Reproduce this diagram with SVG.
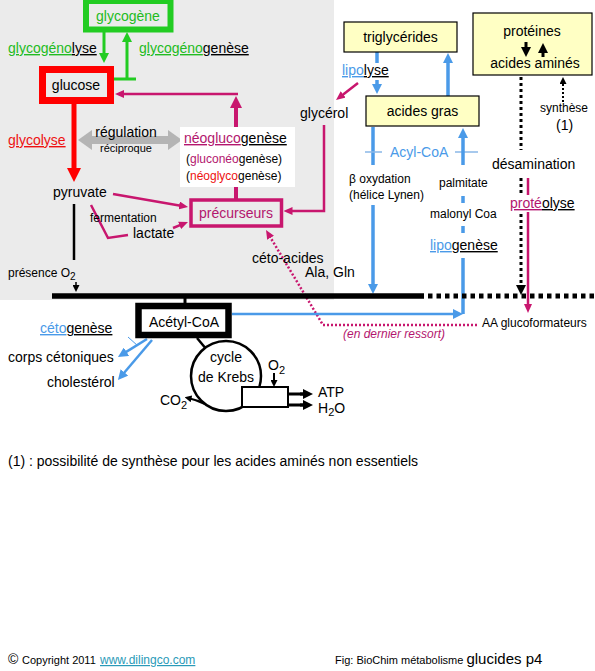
<svg xmlns="http://www.w3.org/2000/svg" width="595" height="671" viewBox="0 0 595 671">
<style>
text{font-family:"Liberation Sans",Arial,sans-serif;font-size:14px;fill:#000}
.s12{font-size:12px}
.s11{font-size:11px}
.u{text-decoration:underline}
.mg{fill:#b3166e}
.gr{fill:#22bb22}
.rd{fill:#ee1111}
.bl{fill:#4a9ae8}
.ln{fill:none;stroke-linecap:butt}
.pk{stroke:#c8166e}
.bu{stroke:#4a9ae8}
.bk{stroke:#000}
.yb{fill:#ffffc4;stroke:#000;stroke-width:1.2}
</style>
<defs>
<marker id="mG" markerUnits="userSpaceOnUse" markerWidth="10" markerHeight="10" refX="5" refY="5" orient="auto"><path d="M0,0L10,5L0,10z" fill="#22cc22"/></marker>
<marker id="mR" markerUnits="userSpaceOnUse" markerWidth="14" markerHeight="14" refX="7" refY="7" orient="auto"><path d="M0,0L14,7L0,14z" fill="#ff0000"/></marker>
<marker id="mGy" markerUnits="userSpaceOnUse" markerWidth="14" markerHeight="20" refX="7" refY="10" orient="auto-start-reverse"><path d="M0,0L14,10L0,20z" fill="#b4b4b4"/></marker>
<marker id="mPT" markerUnits="userSpaceOnUse" markerWidth="12" markerHeight="12" refX="6" refY="6" orient="auto"><path d="M0,0L12,6L0,12z" fill="#c8166e"/></marker>
<marker id="mP" markerUnits="userSpaceOnUse" markerWidth="9" markerHeight="8" refX="4.5" refY="4" orient="auto"><path d="M0,0L9,4L0,8z" fill="#c8166e"/></marker>
<marker id="mB" markerUnits="userSpaceOnUse" markerWidth="10" markerHeight="10" refX="5" refY="5" orient="auto"><path d="M0,0L10,5L0,10z" fill="#4a9ae8"/></marker>
<marker id="mK" markerUnits="userSpaceOnUse" markerWidth="10" markerHeight="10" refX="5" refY="5" orient="auto"><path d="M0,0L10,5L0,10z" fill="#000"/></marker>
<marker id="mKs" markerUnits="userSpaceOnUse" markerWidth="7" markerHeight="7" refX="3.5" refY="3.5" orient="auto"><path d="M0,0L7,3.5L0,7z" fill="#000"/></marker>
</defs>

<rect x="0" y="0" width="334" height="300" fill="#ebebeb"/>

<g id="connectors">
  <!-- glycogen -->
  <path class="ln" d="M104,32V58" stroke="#22cc22" stroke-width="3" marker-end="url(#mG)"/>
  <path class="ln" d="M113,79H136M127,79V37" stroke="#22cc22" stroke-width="3" marker-end="url(#mG)"/>
  <!-- glycolyse -->
  <path class="ln" d="M74,102V175" stroke="#ff0000" stroke-width="5" marker-end="url(#mR)"/>
  <path class="ln" d="M85,140H175" stroke="#b4b4b4" stroke-width="8" marker-start="url(#mGy)" marker-end="url(#mGy)"/>
  <!-- neoglucogenese -->
  <path class="ln pk" d="M238,94H119.5" stroke-width="2.5" marker-end="url(#mP)"/>
  <path class="ln pk" d="M236,200V102" stroke-width="4" marker-end="url(#mPT)"/>
  <path class="ln pk" d="M113,194L183.6,206.2" stroke-width="2.5" marker-end="url(#mP)"/>
  <path class="ln pk" d="M173,228L183.8,223.7" stroke-width="2.5" marker-end="url(#mP)"/>
  <path class="ln pk" d="M91,205L108,238L128,235" stroke-width="2.5"/>
  <path class="ln pk" d="M324,125V211H288" stroke-width="2.5" marker-end="url(#mP)"/>
  <path class="ln pk" d="M358,83L339.6,97.2" stroke-width="2.5" marker-end="url(#mP)"/>
  <path class="ln pk" d="M477,325H323L268.3,233.9" stroke-width="2.5" stroke-dasharray="2,2" marker-end="url(#mP)"/>
  <path class="ln pk" d="M528,178V308.5" stroke-width="2.5" marker-end="url(#mP)"/>
  <!-- lipids -->
  <path class="ln bu" d="M377,52V63" stroke-width="3.5"/>
  <path class="ln bu" d="M377,80V89" stroke-width="3.5" marker-end="url(#mB)"/>
  <path class="ln bu" d="M448,96V58" stroke-width="3.5" marker-end="url(#mB)"/>
  <path class="ln bu" d="M373,127V165" stroke-width="3.5"/>
  <path class="ln bu" d="M373,205V289" stroke-width="3.5" marker-end="url(#mB)"/>
  <path class="ln" d="M365,152H382M455,152H478" stroke="#8ab8e8" stroke-width="1.5"/>
  <path class="ln bu" d="M463,165V133" stroke-width="3.5" marker-end="url(#mB)"/>
  <path class="ln bu" d="M463,196V203M463,226V233M463,258V314" stroke-width="3.5"/>
  <path class="ln bu" d="M232,314H458" stroke-width="2.5" marker-end="url(#mB)"/>
  <path class="ln bu" d="M147,339L122.2,354.4" stroke-width="2.5" marker-end="url(#mB)"/>
  <path class="ln bu" d="M152,340L121.2,376.2" stroke-width="2.5" marker-end="url(#mB)"/>
  <path class="ln" d="M128,337L138,346" stroke="#4a9ae8" stroke-width="1"/>
  <!-- black -->
  <path class="ln bk" d="M74,204V260" stroke-width="2.5"/>
  <path class="ln bk" d="M76,282V288.5" stroke-width="1.5" marker-end="url(#mKs)"/>
  <path class="ln bk" d="M52,296H424" stroke-width="5.5"/>
  <path class="ln bk" d="M428,296H595" stroke-width="5" stroke-dasharray="4.5,4"/>
  <path class="ln bk" d="M185,296V304" stroke-width="3"/>
  <path class="ln bk" d="M197,338L207,350" stroke-width="2.5"/>
  <path class="ln bk" d="M521,77V150M521,178V290" stroke-width="3" stroke-dasharray="3,3" marker-end="url(#mK)"/>
  <path class="ln bk" d="M563,102V80.5" stroke-width="2" stroke-dasharray="2,2" marker-end="url(#mKs)"/>
  <path class="ln bk" d="M274,373V383.5" stroke-width="2" marker-end="url(#mKs)"/>
  <path class="ln bk" d="M288,394H308M288,405H308" stroke-width="3"/>
  <path class="ln bk" d="M300,394H308" stroke-width="3" marker-end="url(#mK)"/>
  <path class="ln bk" d="M300,405H308" stroke-width="3" marker-end="url(#mK)"/>
  <path class="ln bk" d="M205,404Q197,400 188,398" stroke-width="2" marker-end="url(#mKs)"/>
</g>

<g id="glycogene">
  <rect x="86" y="1" width="84.5" height="28.5" fill="#ebebeb" stroke="#22cc22" stroke-width="6"/>
  <text x="128" y="21" text-anchor="middle" class="gr">glycogène</text>
</g>
<g id="glycogenolyse-label">
  <text x="8" y="53"><tspan class="gr u">glycogéno</tspan><tspan class="u">lyse</tspan></text>
</g>
<g id="glycogenogenese-label">
  <text x="139" y="53"><tspan class="gr u">glycogéno</tspan><tspan class="u">genèse</tspan></text>
</g>
<g id="glucose">
  <rect x="42.5" y="69.5" width="68" height="31" fill="#ebebeb" stroke="#ff0000" stroke-width="7"/>
  <text x="76" y="90" text-anchor="middle">glucose</text>
</g>
<g id="glycolyse-label">
  <text x="8" y="145" class="rd u">glycolyse</text>
</g>
<g id="regulation">
  <text x="126" y="137" text-anchor="middle">régulation</text>
  <text x="126" y="152" text-anchor="middle" class="s11">réciproque</text>
</g>
<g id="neoglucogenese">
  <rect x="180" y="127" width="115" height="60" fill="#ffffff"/>
  <text x="184" y="143"><tspan class="mg u">néogluco</tspan><tspan class="u">genèse</tspan></text>
  <text x="186" y="163" class="s12">(<tspan class="mg">gluconéo</tspan>genèse)</text>
  <text x="186" y="180" class="s12">(<tspan class="rd">néoglyco</tspan>genèse)</text>
</g>
<g id="pyruvate">
  <text x="53" y="197">pyruvate</text>
</g>
<g id="fermentation">
  <text x="90" y="222" class="s12">fermentation</text>
</g>
<g id="lactate">
  <text x="133" y="238">lactate</text>
</g>
<g id="precurseurs">
  <rect x="191" y="200" width="90.5" height="26" fill="#ebebeb" stroke="#c8166e" stroke-width="3.5"/>
  <text x="236" y="218" text-anchor="middle" class="mg">précurseurs</text>
</g>
<g id="presence-o2">
  <text x="8" y="277" class="s12">présence O<tspan dy="3" font-size="10">2</tspan></text>
</g>
<g id="glycerol">
  <text x="300" y="118">glycérol</text>
</g>
<g id="triglycerides">
  <rect x="344" y="22" width="113" height="30" class="yb"/>
  <text x="400.5" y="42" text-anchor="middle">triglycérides</text>
</g>
<g id="lipolyse-label">
  <text x="342" y="75"><tspan class="bl u">lipo</tspan><tspan class="u">lyse</tspan></text>
</g>
<g id="acides-gras">
  <rect x="366" y="96" width="113" height="30" class="yb"/>
  <text x="422.5" y="116" text-anchor="middle">acides gras</text>
</g>
<g id="acyl-coa">
  <text x="390" y="157" class="bl">Acyl-CoA</text>
</g>
<g id="beta-oxydation">
  <text x="349" y="183" class="s12">β oxydation</text>
  <text x="349" y="199" class="s12">(hélice Lynen)</text>
</g>
<g id="palmitate">
  <text x="439" y="187" class="s12">palmitate</text>
</g>
<g id="malonyl">
  <text x="430" y="218" class="s12">malonyl Coa</text>
</g>
<g id="lipogenese-label">
  <text x="430" y="250"><tspan class="bl u">lipo</tspan><tspan class="u">genèse</tspan></text>
</g>
<g id="proteines">
  <rect x="473" y="13" width="119" height="62" class="yb"/>
  <text x="532" y="36" text-anchor="middle">protéines</text>
  <text x="535" y="68" text-anchor="middle">acides aminés</text>
  <path class="ln bk" d="M526,42V52" stroke-width="3" marker-end="url(#mK)"/>
  <path class="ln bk" d="M543,57V48" stroke-width="3" marker-end="url(#mK)"/>
</g>
<g id="synthese">
  <text x="540" y="112" class="s12">synthèse</text>
  <text x="556" y="130" font-size="13">(1)</text>
</g>
<g id="desamination">
  <text x="492" y="169" font-size="13.5">désamination</text>
</g>
<g id="proteolyse-label">
  <rect x="509" y="195" width="66" height="17" fill="#ffffff"/>
  <text x="510" y="208"><tspan class="mg u">proté</tspan><tspan class="u">olyse</tspan></text>
</g>
<g id="ceto-acides">
  <text x="252" y="263">céto-acides</text>
  <text x="305" y="277">Ala, Gln</text>
</g>
<g id="aa-glucoformateurs">
  <text x="482" y="327" class="s12">AA glucoformateurs</text>
</g>
<g id="dernier-ressort">
  <text x="343" y="338" class="s12 mg" font-style="italic">(en dernier ressort)</text>
</g>
<g id="acetyl-coa">
  <rect x="138.5" y="306" width="90" height="29" fill="#ffffff" stroke="#000" stroke-width="6.5"/>
  <text x="184" y="327" text-anchor="middle">Acétyl-CoA</text>
</g>
<g id="cetogenese-label">
  <text x="40" y="333"><tspan class="bl u">céto</tspan><tspan class="u">genèse</tspan></text>
</g>
<g id="corps-cetoniques">
  <text x="8" y="362">corps cétoniques</text>
</g>
<g id="cholesterol">
  <text x="47" y="387">cholestérol</text>
</g>
<g id="krebs">
  <circle cx="226" cy="376" r="35" fill="#ffffff" stroke="#000" stroke-width="2.5"/>
  <text x="226" y="362" text-anchor="middle">cycle</text>
  <text x="226" y="382" text-anchor="middle">de Krebs</text>
</g>
<g id="chaine-respiratoire">
  <rect x="242" y="387" width="46" height="20" fill="#ffffff" stroke="#000" stroke-width="2"/>
</g>
<g id="o2">
  <text x="268" y="370">O<tspan dy="4" font-size="11">2</tspan></text>
</g>
<g id="co2">
  <text x="160" y="405">CO<tspan dy="4" font-size="11">2</tspan></text>
</g>
<g id="atp">
  <text x="318" y="397">ATP</text>
  <text x="318" y="413">H<tspan dy="3" font-size="11">2</tspan><tspan dy="-3">O</tspan></text>
</g>
<g id="footnote">
  <text x="8" y="466">(1) : possibilité de synthèse pour les acides aminés non essentiels</text>
</g>
<g id="footer">
  <text x="8" y="664" font-size="13">©</text>
  <text x="22" y="664" class="s11">Copyright 2011</text>
  <text x="100" y="664" class="s12 u" style="fill:#2a9ab8">www.dilingco.com</text>
  <text x="335" y="664" class="s11">Fig: BioChim métabolisme <tspan font-size="15">glucides p4</tspan></text>
</g>
</svg>
